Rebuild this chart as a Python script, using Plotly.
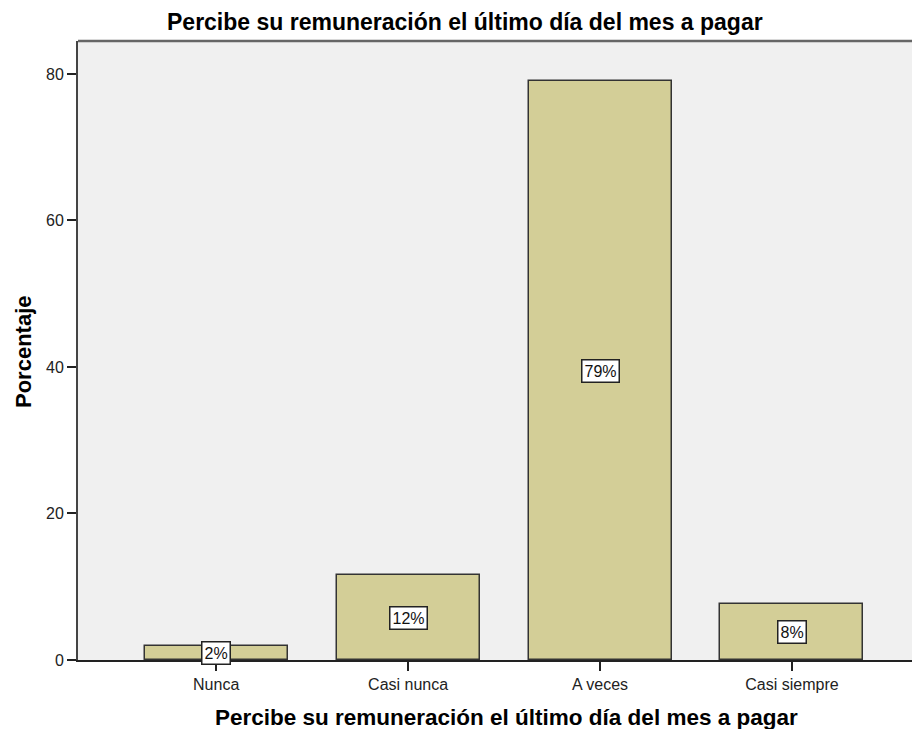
import plotly.graph_objects as go

categories = ["Nunca", "Casi nunca", "A veces", "Casi siempre"]
values = [1.9, 11.6, 79.0, 7.7]
labels = ["2%", "12%", "79%", "8%"]
y_ticks = [0, 20, 40, 60, 80]

title = "Percibe su remuneración el último día del mes a pagar"

# page has an 8px body offset
OFF = 8
W, H = 912, 721
L, R, T, B = 70, 0, 33, 69
pw = W - L - R
ph = H - T - B

def px(xp):
    return (xp - OFF - L) / pw

def py(yp):
    return (H - B - (yp - OFF)) / ph

FONT = "Liberation Sans, Arial, sans-serif"

fig = go.Figure()
fig.add_trace(go.Bar(
    x=categories, y=values, width=0.745,
    marker=dict(color="#D3CE97", line=dict(color="#333333", width=1.5)),
    hoverinfo="skip",
))

for c, v, t in zip(categories, values, labels):
    fig.add_annotation(x=c, y=v / 2, text=t, showarrow=False,
                       font=dict(family=FONT, size=16, color="#111"),
                       bgcolor="white", bordercolor="#222", borderwidth=1.5, borderpad=2)

fig.add_annotation(xref="paper", yref="paper", x=px(465), y=py(8),
                   text="<b>" + title + "</b>", showarrow=False, xanchor="center", yanchor="top",
                   borderpad=0,
                   font=dict(family=FONT, size=23, color="black"))
fig.add_annotation(xref="paper", yref="paper", x=px(506), y=py(717),
                   text="<b>" + title + "</b>", showarrow=False, xanchor="center", yanchor="middle",
                   font=dict(family=FONT, size=22.5, color="black"))
fig.add_annotation(xref="paper", yref="paper", x=px(23), y=py(352),
                   text="<b>Porcentaje</b>", showarrow=False, textangle=-90,
                   xanchor="center", yanchor="middle",
                   font=dict(family=FONT, size=22, color="black"))

fig.add_shape(type="line", xref="paper", yref="paper", x0=0, x1=1, y0=1, y1=1,
              line=dict(color="#666", width=2.5))

fig.update_layout(
    width=W, height=H, margin=dict(l=L, r=R, t=T, b=B),
    paper_bgcolor="white", plot_bgcolor="#F0F0F0",
    showlegend=False, bargap=0,
    font=dict(family=FONT, size=16, color="#222"),
)
fig.update_xaxes(range=[-0.72, 3.667], showgrid=False, showline=True, linecolor="#222", linewidth=1.5,
                 ticks="outside", ticklen=9, tickcolor="#222", tickwidth=1.5,
                 tickfont=dict(family=FONT, size=16, color="#222"))
fig.update_yaxes(range=[0, 84.5], tickvals=y_ticks, showgrid=False, zeroline=False,
                 showline=True, linecolor="#444", linewidth=2,
                 ticks="outside", ticklen=9, tickcolor="#222", tickwidth=1.5,
                 tickfont=dict(family=FONT, size=16, color="#222"))

fig.write_html("out.html")
